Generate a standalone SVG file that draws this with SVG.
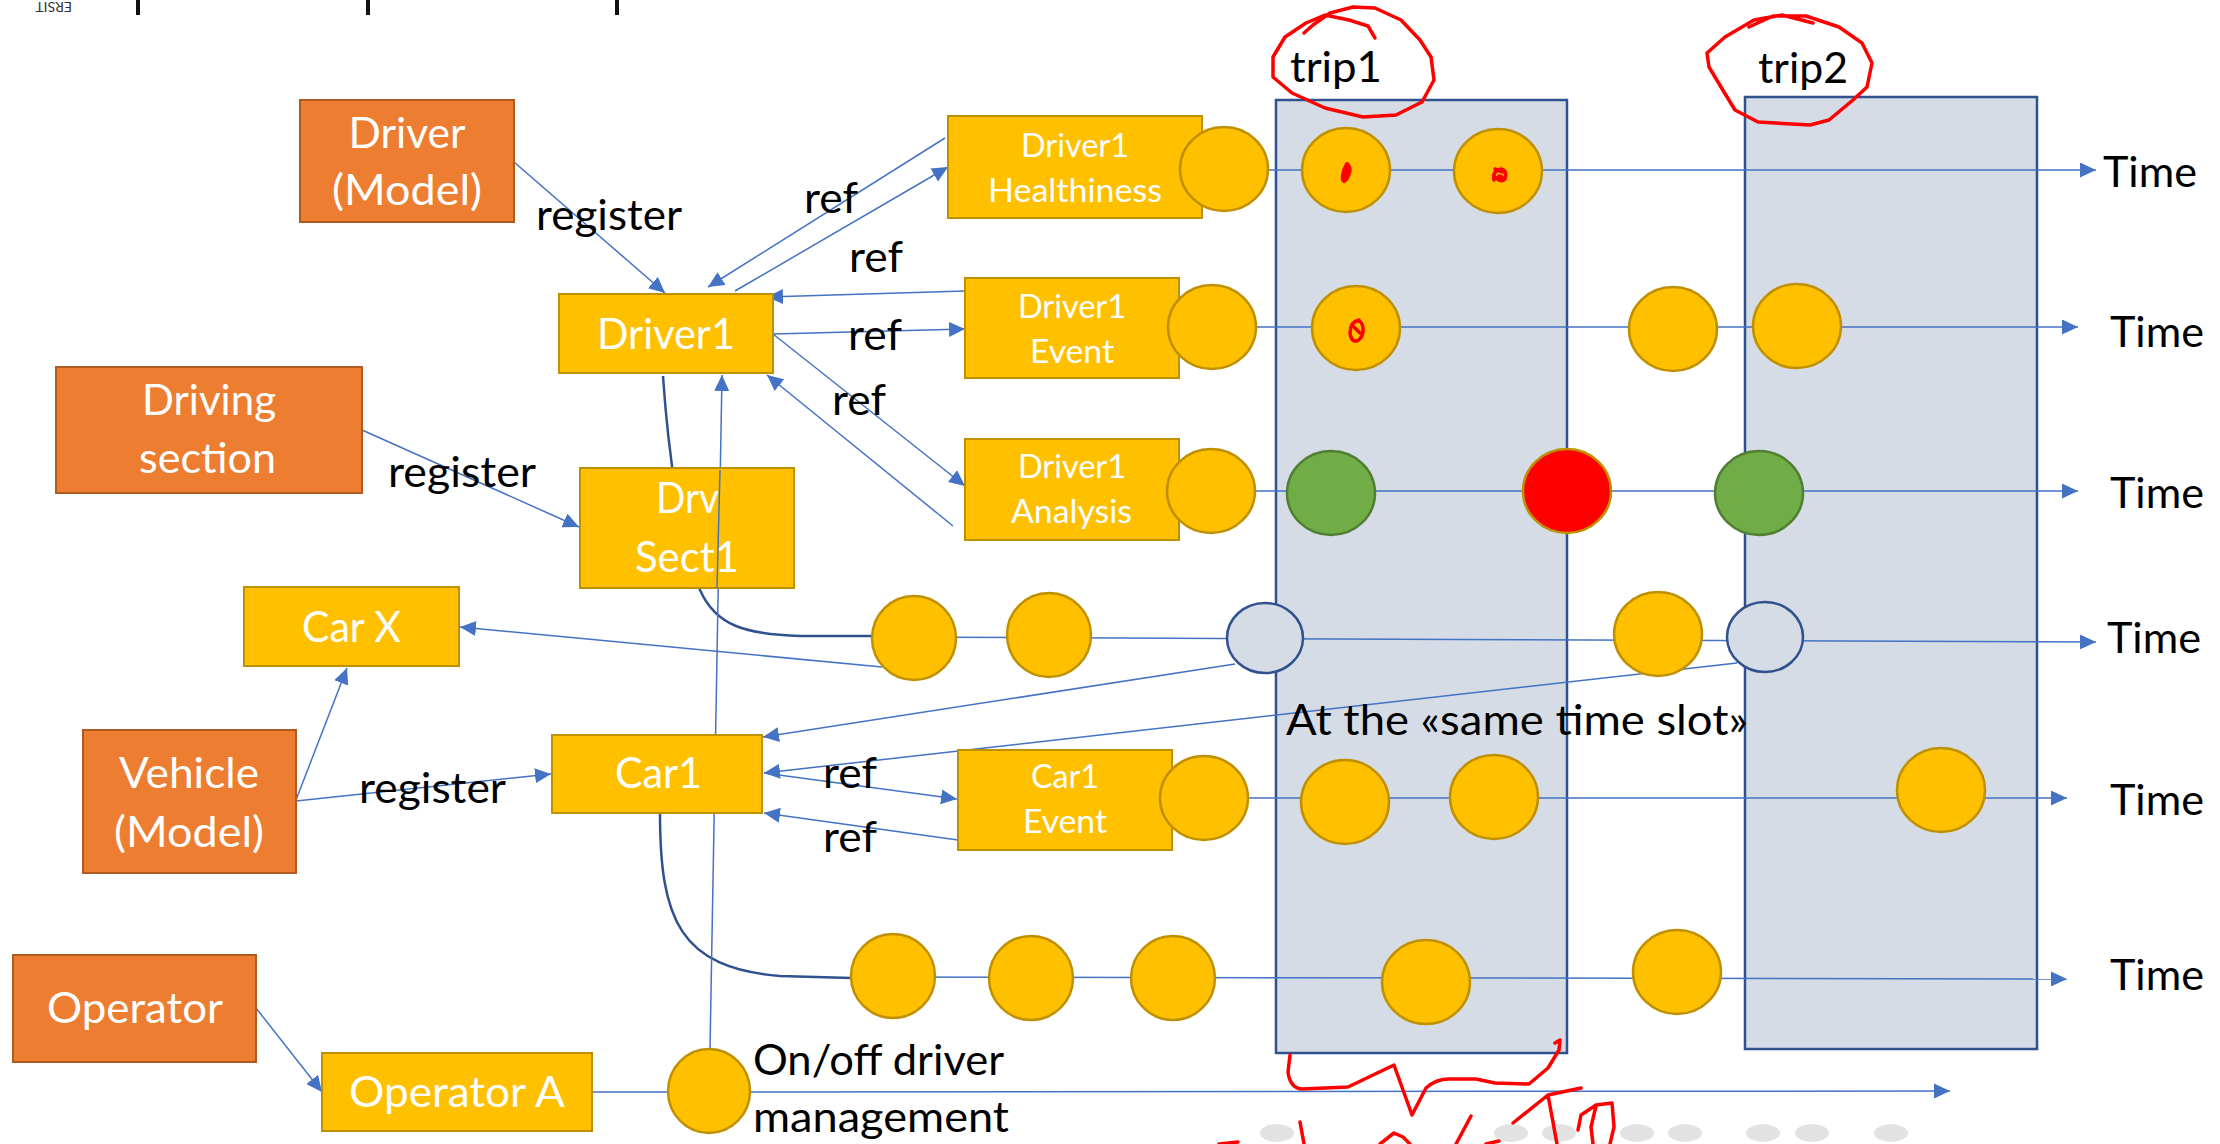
<svg xmlns="http://www.w3.org/2000/svg" width="2220" height="1144" viewBox="0 0 2220 1144">
<style>
text{font-family:Lato,"Noto Sans","DejaVu Sans",sans-serif}
.big{font-size:43px}
.sm{font-size:33px}
.w{fill:#FFFFFF}
.b{fill:#000000}
.bo{fill:#ED7D31;stroke:#AE5A21;stroke-width:2}
.by{fill:#FFC000;stroke:#BF9000;stroke-width:2}
.ev{fill:#FFC000;stroke:#BF9000;stroke-width:2.5}
.gr{fill:#70AD47;stroke:#507E32;stroke-width:2.5}
.rd{fill:#FF0000;stroke:#BF9000;stroke-width:2.5}
.ho{fill:#D6DCE5;stroke:#2F528F;stroke-width:2.5}
.trip{fill:#D6DCE5;stroke:#2F528F;stroke-width:2.5}
.con{stroke:#4472C4;stroke-width:1.5;fill:none}
.arr{marker-end:url(#ah)}
.dark{stroke:#2F528F;stroke-width:2.5;fill:none}
.ink{stroke:#FF0000;stroke-width:3.5;fill:none;stroke-linecap:round;stroke-linejoin:round}
.blob{stroke:#FF0000;stroke-width:4;fill:#FF0000;stroke-linecap:round;stroke-linejoin:round}
.dot{fill:#E2E2E2}
</style>
<defs>
<marker id="ah" markerUnits="userSpaceOnUse" markerWidth="17" markerHeight="15" refX="16" refY="7.5" orient="auto">
<path d="M0,0 L16,7.5 L0,15 z" fill="#4472C4"/>
</marker>
</defs>
<rect width="2220" height="1144" fill="#FFFFFF"/>
<g id="header">
<line x1="138" y1="0" x2="138" y2="15" stroke="#111" stroke-width="4"/>
<line x1="368" y1="0" x2="368" y2="15" stroke="#111" stroke-width="4"/>
<line x1="617" y1="0" x2="617" y2="15" stroke="#111" stroke-width="4"/>
<text transform="translate(72,2) rotate(180)" font-size="14" fill="#333">ERSIT</text>
</g>
<g id="bgdots">
<ellipse class="dot" cx="1277" cy="1133" rx="17" ry="9"/>
<ellipse class="dot" cx="1511" cy="1133" rx="17" ry="9"/>
<ellipse class="dot" cx="1559" cy="1133" rx="17" ry="9"/>
<ellipse class="dot" cx="1637" cy="1133" rx="17" ry="9"/>
<ellipse class="dot" cx="1685" cy="1133" rx="17" ry="9"/>
<ellipse class="dot" cx="1763" cy="1133" rx="17" ry="9"/>
<ellipse class="dot" cx="1812" cy="1133" rx="17" ry="9"/>
<ellipse class="dot" cx="1891" cy="1133" rx="17" ry="9"/>
</g>
<g id="trip1"><rect class="trip" x="1276" y="100" width="291" height="953"/></g>
<g id="trip2"><rect class="trip" x="1745" y="97" width="292" height="952"/></g>
<g id="connectors">
<path class="dark" d="M663,376 C668,450 680,540 700,590 C716,626 745,634 800,636 L872,636"/>
<path class="dark" d="M660,813 C660,920 680,968 780,976 L851,978"/>
<line class="con arr" x1="1268" y1="170" x2="2096" y2="170"/>
<line class="con arr" x1="1256" y1="327" x2="2078" y2="327"/>
<line class="con arr" x1="1255" y1="491" x2="2078" y2="491"/>
<line class="con arr" x1="872" y1="637" x2="2096" y2="642"/>
<line class="con arr" x1="1248" y1="798" x2="2067" y2="798"/>
<line class="con arr" x1="851" y1="977" x2="2067" y2="979"/>
<line class="con" x1="592" y1="1092" x2="668" y2="1092"/>
<line class="con arr" x1="750" y1="1092" x2="1950" y2="1091"/>
<line class="con arr" x1="514" y1="162" x2="665" y2="293"/>
<line class="con arr" x1="362" y1="430" x2="579" y2="527"/>
<line class="con arr" x1="296" y1="801" x2="551" y2="774"/>
<line class="con arr" x1="296" y1="800" x2="347" y2="668"/>
<line class="con arr" x1="256" y1="1008" x2="322" y2="1092"/>
<line class="con arr" x1="945" y1="138" x2="708" y2="287"/>
<line class="con arr" x1="735" y1="291" x2="948" y2="167"/>
<line class="con arr" x1="965" y1="291" x2="767" y2="297"/>
<line class="con arr" x1="773" y1="334" x2="965" y2="329"/>
<line class="con arr" x1="773" y1="334" x2="965" y2="486"/>
<line class="con arr" x1="953" y1="526" x2="767" y2="375"/>
<line class="con arr" x1="882" y1="667" x2="460" y2="627"/>
<line class="con arr" x1="1235" y1="664" x2="763" y2="737"/>
<line class="con arr" x1="1737" y1="663" x2="764" y2="773"/>
<line class="con arr" x1="764" y1="773" x2="957" y2="799"/>
<line class="con arr" x1="958" y1="840" x2="764" y2="813"/>
<line class="con arr" x1="710" y1="1050" x2="722" y2="375"/>
</g>
<g id="events">
<ellipse class="ev" cx="1346" cy="170" rx="44" ry="42"/>
<ellipse class="ev" cx="1498" cy="171" rx="44" ry="42"/>
<ellipse class="ev" cx="1356" cy="328" rx="44" ry="42"/>
<ellipse class="ev" cx="1673" cy="329" rx="44" ry="42"/>
<ellipse class="ev" cx="1797" cy="326" rx="44" ry="42"/>
<ellipse class="gr" cx="1331" cy="493" rx="44" ry="42"/>
<ellipse class="rd" cx="1567" cy="491" rx="44" ry="42"/>
<ellipse class="gr" cx="1759" cy="493" rx="44" ry="42"/>
<ellipse class="ev" cx="914" cy="638" rx="42" ry="42"/>
<ellipse class="ev" cx="1049" cy="635" rx="42" ry="42"/>
<ellipse class="ho" cx="1265" cy="638" rx="38" ry="35"/>
<ellipse class="ev" cx="1658" cy="634" rx="44" ry="42"/>
<ellipse class="ho" cx="1765" cy="637" rx="38" ry="35"/>
<ellipse class="ev" cx="1345" cy="802" rx="44" ry="42"/>
<ellipse class="ev" cx="1494" cy="797" rx="44" ry="42"/>
<ellipse class="ev" cx="1941" cy="790" rx="44" ry="42"/>
<ellipse class="ev" cx="893" cy="976" rx="42" ry="42"/>
<ellipse class="ev" cx="1031" cy="978" rx="42" ry="42"/>
<ellipse class="ev" cx="1173" cy="978" rx="42" ry="42"/>
<ellipse class="ev" cx="1426" cy="982" rx="44" ry="42"/>
<ellipse class="ev" cx="1677" cy="972" rx="44" ry="42"/>
<ellipse class="ev" cx="709" cy="1091" rx="41" ry="42"/>
</g>
<g id="driver-model"><rect class="bo" x="300" y="100" width="214" height="122"/>
<text class="big w" x="348.5" y="148" textLength="117" lengthAdjust="spacingAndGlyphs">Driver</text>
<text class="big w" x="332" y="205" textLength="150" lengthAdjust="spacingAndGlyphs">(Model)</text></g>
<g id="driving-section"><rect class="bo" x="56" y="367" width="306" height="126"/>
<text class="big w" x="142" y="415" textLength="134" lengthAdjust="spacingAndGlyphs">Driving</text>
<text class="big w" x="139" y="473" textLength="137" lengthAdjust="spacingAndGlyphs">section</text></g>
<g id="vehicle-model"><rect class="bo" x="83" y="730" width="213" height="143"/>
<text class="big w" x="119" y="788" textLength="140" lengthAdjust="spacingAndGlyphs">Vehicle</text>
<text class="big w" x="114" y="847" textLength="150" lengthAdjust="spacingAndGlyphs">(Model)</text></g>
<g id="operator"><rect class="bo" x="13" y="955" width="243" height="107"/>
<text class="big w" x="47" y="1023" textLength="176" lengthAdjust="spacingAndGlyphs">Operator</text></g>
<g id="driver1"><rect class="by" x="559" y="294" width="214" height="79"/>
<text class="big w" x="597" y="349" textLength="138" lengthAdjust="spacingAndGlyphs">Driver1</text></g>
<g id="drvsect1"><rect class="by" x="580" y="468" width="214" height="120"/>
<text class="big w" x="656" y="513" textLength="63" lengthAdjust="spacingAndGlyphs">Drv</text>
<text class="big w" x="635" y="572" textLength="104" lengthAdjust="spacingAndGlyphs">Sect1</text></g>
<line class="con" x1="720" y1="470" x2="717" y2="588"/>
<g id="carx"><rect class="by" x="244" y="587" width="215" height="79"/>
<text class="big w" x="302" y="642" textLength="99" lengthAdjust="spacingAndGlyphs">Car X</text></g>
<g id="car1"><rect class="by" x="552" y="735" width="210" height="78"/>
<text class="big w" x="615" y="788" textLength="87" lengthAdjust="spacingAndGlyphs">Car1</text></g>
<g id="operatora"><rect class="by" x="322" y="1053" width="270" height="78"/>
<text class="big w" x="349" y="1107" textLength="216" lengthAdjust="spacingAndGlyphs">Operator A</text></g>
<g id="healthiness"><rect class="by" x="948" y="116" width="254" height="102"/>
<text class="sm w" x="1021" y="157" textLength="108" lengthAdjust="spacingAndGlyphs">Driver1</text>
<text class="sm w" x="988" y="202" textLength="174" lengthAdjust="spacingAndGlyphs">Healthiness</text>
<ellipse class="ev" cx="1224" cy="169" rx="44" ry="42"/></g>
<g id="event"><rect class="by" x="965" y="278" width="214" height="100"/>
<text class="sm w" x="1018" y="318" textLength="108" lengthAdjust="spacingAndGlyphs">Driver1</text>
<text class="sm w" x="1030" y="363" textLength="84" lengthAdjust="spacingAndGlyphs">Event</text>
<ellipse class="ev" cx="1212" cy="327" rx="44" ry="42"/></g>
<g id="analysis"><rect class="by" x="965" y="439" width="214" height="101"/>
<text class="sm w" x="1018" y="478" textLength="108" lengthAdjust="spacingAndGlyphs">Driver1</text>
<text class="sm w" x="1011" y="523" textLength="121" lengthAdjust="spacingAndGlyphs">Analysis</text>
<ellipse class="ev" cx="1211" cy="491" rx="44" ry="42"/></g>
<g id="car1event"><rect class="by" x="958" y="750" width="214" height="100"/>
<text class="sm w" x="1031" y="788" textLength="68" lengthAdjust="spacingAndGlyphs">Car1</text>
<text class="sm w" x="1023" y="833" textLength="84" lengthAdjust="spacingAndGlyphs">Event</text>
<ellipse class="ev" cx="1204" cy="798" rx="44" ry="42"/></g>
<g id="labels">
<text class="big b" x="536" y="230" textLength="146" lengthAdjust="spacingAndGlyphs">register</text>
<text class="big b" x="388" y="487" textLength="148" lengthAdjust="spacingAndGlyphs">register</text>
<text class="big b" x="359" y="803" textLength="147" lengthAdjust="spacingAndGlyphs">register</text>
<text class="big b" x="804" y="213" textLength="54" lengthAdjust="spacingAndGlyphs">ref</text>
<text class="big b" x="849" y="272" textLength="54" lengthAdjust="spacingAndGlyphs">ref</text>
<text class="big b" x="848" y="350" textLength="54" lengthAdjust="spacingAndGlyphs">ref</text>
<text class="big b" x="832" y="415" textLength="54" lengthAdjust="spacingAndGlyphs">ref</text>
<text class="big b" x="823" y="788" textLength="54" lengthAdjust="spacingAndGlyphs">ref</text>
<text class="big b" x="823" y="852" textLength="54" lengthAdjust="spacingAndGlyphs">ref</text>
<text class="big b" x="1290" y="82" textLength="92" lengthAdjust="spacingAndGlyphs">trip1</text>
<text class="big b" x="1758" y="83" textLength="90" lengthAdjust="spacingAndGlyphs">trip2</text>
<text class="big b" x="2103" y="187" textLength="94" lengthAdjust="spacingAndGlyphs">Time</text>
<text class="big b" x="2110" y="347" textLength="94" lengthAdjust="spacingAndGlyphs">Time</text>
<text class="big b" x="2110" y="508" textLength="94" lengthAdjust="spacingAndGlyphs">Time</text>
<text class="big b" x="2107" y="653" textLength="94" lengthAdjust="spacingAndGlyphs">Time</text>
<text class="big b" x="2110" y="815" textLength="94" lengthAdjust="spacingAndGlyphs">Time</text>
<text class="big b" x="2110" y="990" textLength="94" lengthAdjust="spacingAndGlyphs">Time</text>
<text class="big b" x="1286" y="735" textLength="462" lengthAdjust="spacingAndGlyphs">At the «same time slot»</text>
<text class="big b" x="753" y="1075" textLength="251" lengthAdjust="spacingAndGlyphs">On/off driver</text>
<text class="big b" x="753" y="1132" textLength="256" lengthAdjust="spacingAndGlyphs">management</text>
</g>
<g id="annotations">
<path class="ink" d="M1375,38 L1368,26 L1349,20 L1325,15 L1306,23 L1285,37 L1273,57 L1273,77 L1292,93 L1325,108 L1363,117 L1396,115 L1422,102 L1434,80 L1431,57 L1420,40 L1401,20 L1375,8 L1353,7 L1330,13 L1313,25 L1304,33"/>
<path class="ink" d="M1813,23 L1782,15 L1754,20 L1725,37 L1707,53 L1709,67 L1721,87 L1735,110 L1758,122 L1810,125 L1829,120 L1853,100 L1867,87 L1872,63 L1862,43 L1839,27 L1806,16 L1773,16 L1749,27"/>
<path class="blob" d="M1347,164 q4,4 2,9 q-2,7 -5,8 q-2,-1 -1,-6 q1,-6 4,-11 z"/>
<path class="ink" stroke-width="4" d="M1494,180 q-2,-9 7,-11 q7,2 4,10 q-4,4 -10,-2 M1495,169 l8,3 M1499,176 l3,1"/>
<path class="ink" stroke-width="4.5" d="M1359,320 q-9,2 -9,13 q1,9 7,8 q7,-4 6,-13 q-1,-7 -5,-7 M1354,327 l6,6"/>
<path class="ink" d="M1290,1055 L1288,1072 Q1290,1088 1302,1089 L1348,1087 L1394,1065 L1412,1115 L1426,1088 Q1436,1079 1449,1079 L1476,1079 L1495,1083 L1529,1084 L1548,1068 L1559,1050 L1560,1040 L1555,1043"/>
<path class="ink" d="M1300,1122 L1304,1144 M1219,1144 L1238,1142 M1380,1144 L1394,1133 L1403,1137 L1410,1144 M1471,1116 L1456,1144 M1486,1144 L1499,1141 M1513,1123 L1548,1095 L1581,1088 M1548,1095 L1557,1144 M1578,1130 L1581,1115 L1596,1105 L1612,1103 L1614,1127 L1610,1144 M1596,1106 L1591,1127 L1593,1144"/>
</g>
</svg>
